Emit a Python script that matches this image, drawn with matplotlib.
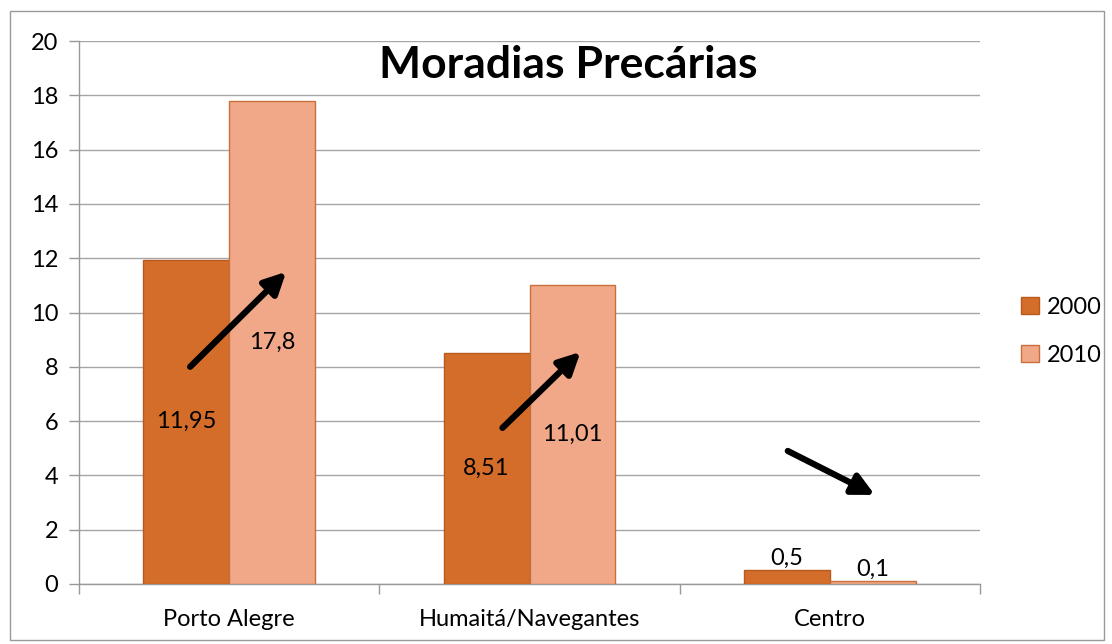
import matplotlib
matplotlib.use("Agg")
import matplotlib.pyplot as plt
from matplotlib.patches import Rectangle
import numpy as np

categories = ["Porto Alegre", "Humaitá/Navegantes", "Centro"]
series_names = ["2000", "2010"]
values_2000 = [11.95, 8.51, 0.5]
values_2010 = [17.8, 11.01, 0.1]
labels_2000 = ["11,95", "8,51", "0,5"]
labels_2010 = ["17,8", "11,01", "0,1"]
yticks = [0, 2, 4, 6, 8, 10, 12, 14, 16, 18, 20]
title = "Moradias Precárias"
# arrow annotations (start -> end) in data coordinates
arrows = [((-0.13, 8.0), (0.19, 11.5)),
          ((0.91, 5.75), (1.17, 8.55)),
          ((1.86, 4.9), (2.15, 3.28))]

plt.rcParams['font.family'] = ['Lato', 'DejaVu Sans']

fig = plt.figure(figsize=(11.12, 6.44), dpi=100)
ax = fig.add_axes([79/1112, 1-584/644, (980-79)/1112, (584-41)/644])

x = np.arange(len(categories))
w = 0.286
c2000, e2000 = "#D46D2A", "#B85A1E"
c2010, e2010 = "#F0A889", "#C8703C"
ax.bar(x - w/2, values_2000, w, color=c2000, edgecolor=e2000, linewidth=1, label=series_names[0], zorder=3)
ax.bar(x + w/2, values_2010, w, color=c2010, edgecolor=e2010, linewidth=1, label=series_names[1], zorder=3)

fs = 17
for i in range(len(categories)):
    for xpos, v, lab in [(x[i] - w/2, values_2000[i], labels_2000[i]), (x[i] + w/2, values_2010[i], labels_2010[i])]:
        if v > 2:
            ax.text(xpos, v/2, lab, ha='center', va='center', fontsize=fs, zorder=5)
        else:
            ax.text(xpos, v + 0.45, lab, ha='center', va='center', fontsize=fs, zorder=5)

for (s, e) in arrows:
    ax.annotate("", xy=e, xytext=s,
                arrowprops=dict(arrowstyle="-|>,head_length=1.3,head_width=0.65", lw=4.5, color="black",
                                shrinkA=0, shrinkB=0), zorder=6)

ax.set_xlim(-0.5, 2.5)
ax.set_ylim(0, 20)
ax.set_yticks(yticks)
ax.set_yticklabels([str(t) for t in yticks], fontsize=fs)
ax.set_xticks(x)
ax.set_xticklabels(categories, fontsize=fs)
ax.set_xticks([-0.5, 0.5, 1.5, 2.5], minor=True)
ax.tick_params(axis='x', which='major', length=0, pad=18)
ax.tick_params(axis='x', which='minor', length=7, color="#999999", width=1)
ax.tick_params(axis='y', length=7, color="#999999", width=1, pad=8)
ax.grid(axis='y', color="#A6A6A6", linewidth=1, zorder=0)
for s in ['top', 'right']:
    ax.spines[s].set_visible(False)
for s in ['left', 'bottom']:
    ax.spines[s].set_color("#999999")
    ax.spines[s].set_linewidth(1)

fig.text(568/1112, 1-65/644, title, ha='center', va='center', fontsize=32, fontweight='bold')

ax.legend(loc='center left', bbox_to_anchor=(1.022, 0.465), frameon=False, fontsize=fs,
          handlelength=0.75, handleheight=0.75, labelspacing=1.15, handletextpad=0.35)

fig.patches.append(Rectangle((10/1112, 4/644), (1104-10)/1112, (633-4)/644, transform=fig.transFigure,
                             fill=False, edgecolor="#999999", linewidth=1))

fig.savefig("out.png", dpi=100)
